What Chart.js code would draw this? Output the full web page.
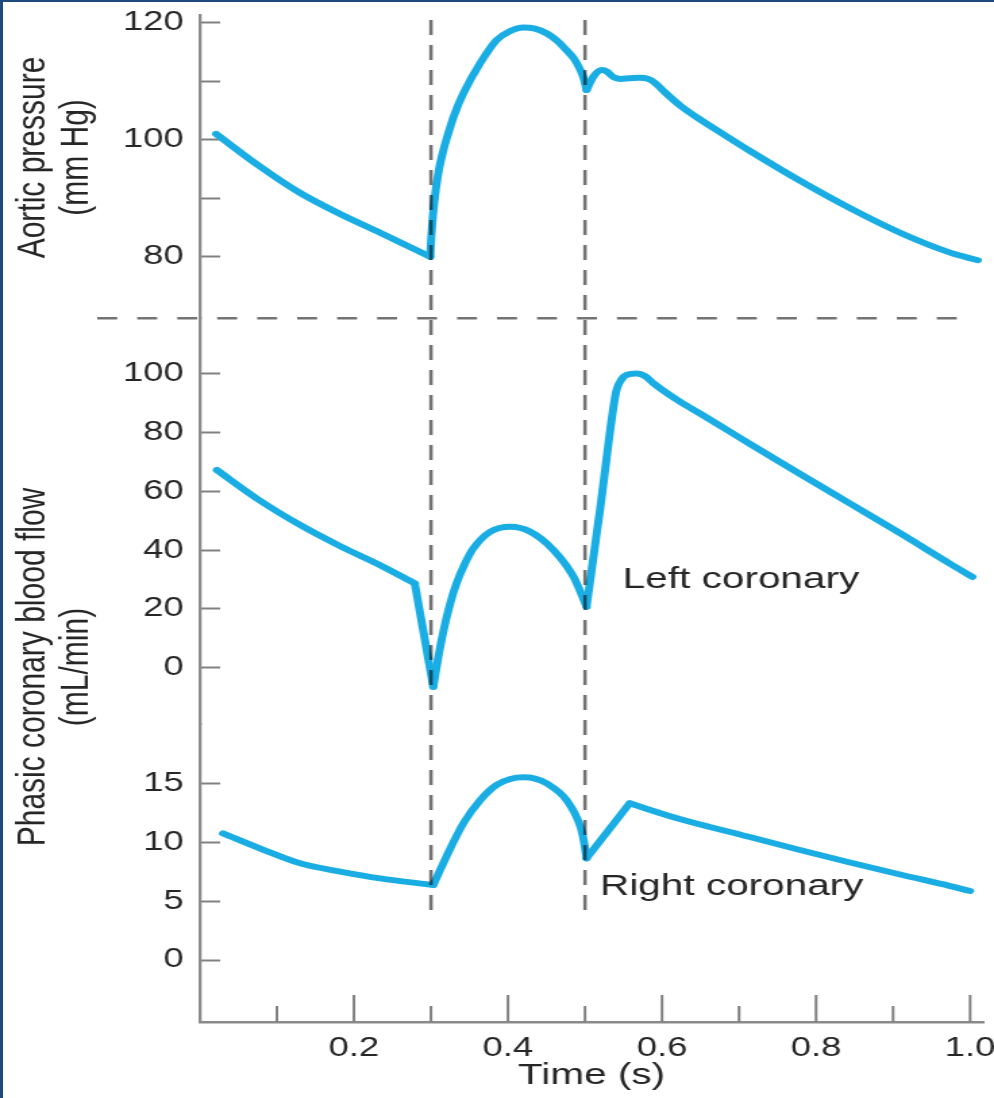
<!DOCTYPE html>
<html><head><meta charset="utf-8">
<script src="https://cdn.jsdelivr.net/npm/chart.js@4.4.1/dist/chart.umd.min.js"></script>
<style>
html,body{margin:0;padding:0;background:#fff;}
body{width:994px;height:1098px;position:relative;overflow:hidden;}
#c{position:absolute;left:0;top:0;}
.bt{position:absolute;left:0;top:0;width:994px;height:2px;background:#1e4a7e;}
.bl{position:absolute;left:0;top:0;width:3px;height:1098px;background:#1e4a7e;}
</style></head><body>
<canvas id="c" width="736" height="1098" style="width:994px;height:1098px;"></canvas>
<div class="bt"></div><div class="bl"></div>
<script>
// ---- data ----
const aorticTime = [0.021,0.075,0.130,0.182,0.234,0.299,0.3005,0.3025,0.306,0.310,0.315,0.320,0.331,0.342,0.364,0.385,0.403,0.420,0.435,0.450,0.463,0.476,0.486,0.494,0.499,0.502,0.511,0.522,0.529,0.537,0.546,0.558,0.571,0.582,0.591,0.603,0.623,0.649,0.680,0.714,0.779,0.844,0.909,0.974,1.010];
const aorticPressure = [101.0,95.7,90.9,87.3,84.1,80.0,83.5,87.0,91.2,94.6,97.6,100.0,104.5,107.9,113.1,117.0,118.6,119.2,119.0,118.2,117.0,115.3,113.8,111.9,110.2,108.5,110.8,111.9,111.6,110.7,110.4,110.5,110.6,110.4,109.7,108.2,105.9,103.5,100.9,98.1,93.0,88.3,84.1,80.7,79.4];
const aorticBreaks = [0.299,0.502];

const leftTime = [0.022,0.075,0.130,0.182,0.234,0.279,0.303,0.309,0.316,0.325,0.333,0.344,0.355,0.377,0.403,0.429,0.459,0.485,0.502,0.520,0.537,0.541,0.547,0.554,0.567,0.578,0.589,0.623,0.649,0.714,0.779,0.844,0.909,0.974,1.003];
const leftFlow = [67.3,57.4,48.6,41.4,34.9,28.7,-6.5,2.8,12.2,21.9,28.6,35.4,40.6,46.3,48.0,46.3,40.1,31.0,20.8,54.8,88.9,94.6,98.0,99.7,100.2,99.3,96.8,90.6,86.6,76.2,66.0,55.9,45.8,35.4,30.9];
const leftBreaks = [0.279,0.303,0.502];

const rightTime = [0.030,0.080,0.130,0.182,0.234,0.303,0.320,0.342,0.364,0.385,0.403,0.420,0.435,0.450,0.476,0.494,0.499,0.502,0.558,0.623,0.714,0.779,0.844,0.909,0.974,1.000];
const rightFlow = [10.75,9.42,8.21,7.51,6.93,6.37,8.77,11.6,13.58,14.86,15.37,15.51,15.4,15.0,13.58,11.32,9.93,8.63,13.3,11.97,10.44,9.34,8.28,7.26,6.28,5.86];
const rightBreaks = [0.303,0.502,0.558];

const timeTicks = [0.1,0.2,0.3,0.4,0.5,0.6,0.7,0.8,0.9,1.0];
const timeLabels = [0.2,0.4,0.6,0.8,1.0];
const aorticTicks = [80,90,100,110,120];
const aorticLabels = [80,100,120];
const leftTicks = [0,20,40,60,80,100];
const rightTicks = [0,5,10,15];
const markerTimes = [0.3,0.5];
const seriesLabels = [
  {text:'Left coronary', axis:'yLeft', t:0.549, v:27.0},
  {text:'Right coronary', axis:'yRight', t:0.5195, v:5.5}
];
const axisTitles = [
  {lines:['Aortic pressure','(mm Hg)'], cy:157.5},
  {lines:['Phasic coronary blood flow','(mL/min)'], cy:667}
];

// ---- style ----
const FONT = '"Liberation Sans", Arial, Helvetica, sans-serif';
const TEXT = '#262626';
const AXIS = '#8a8a8a';
const TICK = '#808080';
const CURVE = '#1aade4';

// split a series into smooth pieces at its sharp corners
function pieces(ts, vs, breaks){
  const out = []; let cur = [];
  ts.forEach((t,i) => {
    cur.push({x:t, y:vs[i]});
    if (breaks.includes(t)) { out.push(cur); cur = [{x:t, y:vs[i]}]; }
  });
  if (cur.length > 1) out.push(cur);
  return out;
}

function yAxis(min, max, ticks, labels, stackWeight, weight){
  return {
    type:'linear', position:'left', stack:'panels', stackWeight, weight,
    min, max, bounds:'data',
    afterBuildTicks: s => { s.ticks = ticks.map(v=>({value:v})); },
    afterFit: s => { s.width = 148; s.paddingTop = 0; s.paddingBottom = 0; },
    ticks: { autoSkip:false, padding:27, color:TEXT, font:{family:FONT,size:27},
             callback: v => labels.includes(v) ? String(v) : '' },
    grid: { display:true, drawOnChartArea:false, drawTicks:true, tickLength:-15, tickColor:TICK, tickWidth:2 },
    border: { display:true, color:AXIS, width:2.3 }
  };
}

const datasets = [];
function addSeries(label, ts, vs, breaks, axis){
  pieces(ts, vs, breaks).forEach(p => datasets.push({
    label, data: p, yAxisID: axis, borderColor: CURVE, borderWidth: 6,
    pointRadius: 0, cubicInterpolationMode: 'monotone', fill: false,
    borderJoinStyle: 'round', borderCapStyle: 'round'
  }));
}
addSeries('Aortic pressure', aorticTime, aorticPressure, aorticBreaks, 'yAortic');
addSeries('Left coronary', leftTime, leftFlow, leftBreaks, 'yLeft');
addSeries('Right coronary', rightTime, rightFlow, rightBreaks, 'yRight');

const overlay = {
  id:'overlay',
  afterDatasetsDraw(chart){
    const ctx = chart.ctx, xs = chart.scales.x, ya = chart.scales.yAortic;
    ctx.save();
    ctx.strokeStyle = 'rgba(0,0,0,0.55)';
    ctx.lineWidth = 2.6;
    ctx.setLineDash([15,10]);
    markerTimes.forEach(t => {
      const px = xs.getPixelForValue(t);
      ctx.beginPath(); ctx.moveTo(px, 20); ctx.lineTo(px, 918); ctx.stroke();
    });
    ctx.lineWidth = 2.4;
    ctx.setLineDash([14.8,14.8]);
    ctx.beginPath(); ctx.moveTo(72, ya.bottom); ctx.lineTo(711, ya.bottom); ctx.stroke();
    ctx.restore();
  },
  afterDraw(chart){
    const ctx = chart.ctx, xs = chart.scales.x;
    ctx.save();
    ctx.strokeStyle = TICK; ctx.lineWidth = 2;
    xs.ticks.forEach(tk => {
      const px = xs.getPixelForValue(tk.value);
      const len = timeLabels.includes(tk.value) ? 27 : 16;
      ctx.beginPath(); ctx.moveTo(px, xs.top); ctx.lineTo(px, xs.top - len); ctx.stroke();
    });
    ctx.fillStyle = TEXT;
    ctx.font = '30px ' + FONT;
    ctx.textAlign = 'left'; ctx.textBaseline = 'alphabetic';
    seriesLabels.forEach(l => {
      const sc = chart.scales[l.axis];
      ctx.fillText(l.text, xs.getPixelForValue(l.t), sc.getPixelForValue(l.v));
    });
    const bx = [32.6, 65.2];
    ctx.textAlign = 'center';
    axisTitles.forEach(tt => {
      tt.lines.forEach((line, i) => {
        ctx.save();
        ctx.translate(bx[i], tt.cy);
        ctx.rotate(-Math.PI/2);
        ctx.fillText(line, 0, 0);
        ctx.restore();
      });
    });
    ctx.restore();
  }
};

new Chart(document.getElementById('c'), {
  type: 'line',
  data: { datasets },
  options: {
    responsive: false, devicePixelRatio: 1, animation: false,
    layout: { padding: { top: 15, right: 8, bottom: 0, left: 0 } },
    plugins: { legend: { display:false }, tooltip: { enabled:false } },
    scales: {
      x: {
        type:'linear', position:'bottom', min:0, max:1.017, bounds:'data',
        afterBuildTicks: s => { s.ticks = timeTicks.map(v=>({value:v})); },
        afterFit: s => { s.height = 76; s.paddingLeft = 0; s.paddingRight = 0; },
        ticks: { autoSkip:false, maxRotation:0, padding:10, color:TEXT, font:{family:FONT,size:27},
                 callback: v => timeLabels.includes(v) ? v.toFixed(1) : '' },
        grid: { display:true, drawOnChartArea:false, drawTicks:false },
        border: { display:true, color:AXIS, width:2.5 },
        title: { display:true, text:'Time (s)', color:TEXT, font:{family:FONT,size:30}, padding:{top:0,bottom:4} }
      },
      yAortic: yAxis(69.47, 121.32, aorticTicks, aorticLabels, 303.3, 3),
      yLeft: yAxis(-19.3, 118.96, leftTicks, leftTicks, 406.1, 2),
      yRight: yAxis(-5.26, 20.0, rightTicks, rightTicks, 297.6, 1)
    }
  },
  plugins: [overlay]
});
</script>
</body></html>
